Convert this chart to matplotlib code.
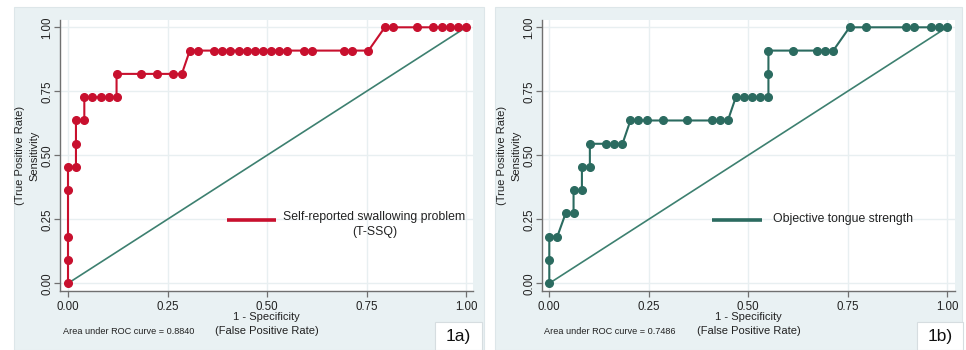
import matplotlib
matplotlib.use("Agg")
import matplotlib.pyplot as plt
from matplotlib.patches import Rectangle

plt.rcParams['font.family'] = ['Liberation Sans', 'DejaVu Sans']

# ---- data ----
fpr_a = [0, 0, 0, 0, 0, .020, .020, .020, .041, .041, .061, .082, .102, .122, .122,
         .184, .224, .265, .286, .306, .327, .367, .388, .408, .429, .449, .469, .490,
         .510, .531, .551, .592, .612, .694, .714, .755, .796, .816, .878, .918, .939,
         .959, .980, 1.0]
tpr_a = [0, .091, .182, .364, .455, .455, .545, .636, .636, .727, .727, .727, .727, .727, .818,
         .818, .818, .818, .818, .909, .909, .909, .909, .909, .909, .909, .909, .909,
         .909, .909, .909, .909, .909, .909, .909, .909, 1, 1, 1, 1, 1,
         1, 1, 1]

fpr_b = [0, 0, 0, .020, .041, .061, .061, .082, .082, .102, .102, .143, .163, .184,
         .204, .224, .245, .286, .347, .408, .429, .449, .469, .490, .510, .531, .551,
         .551, .551, .612, .673, .694, .714, .755, .796, .898, .918, .959, .980, 1.0]
tpr_b = [0, .091, .182, .182, .273, .273, .364, .364, .455, .455, .545, .545, .545, .545,
         .636, .636, .636, .636, .636, .636, .636, .636, .727, .727, .727, .727, .727,
         .818, .909, .909, .909, .909, .909, 1, 1, 1, 1, 1, 1, 1]

ref_line = [0, 1]
ticks = [0, 0.25, 0.5, 0.75, 1.0]
tick_labels = ["0.00", "0.25", "0.50", "0.75", "1.00"]

legend_a = "Self-reported swallowing problem\n(T-SSQ)"
legend_b = "Objective tongue strength"
auc_a = "Area under ROC curve = 0.8840"
auc_b = "Area under ROC curve = 0.7486"
panel_a = "1a)"
panel_b = "1b)"

RED = "#c8102e"
TEAL = "#2b6b60"
DIAG = "#3d8070"
BG = "#e9f1f3"

W, H = 966, 350
fig = plt.figure(figsize=(W / 100, H / 100), dpi=100)


def fx(px):
    return px / W


def fy(py):
    return 1 - py / H


# panel backgrounds
for x0, x1 in [(14, 484), (495, 962)]:
    fig.patches.append(Rectangle((fx(x0), 0), fx(x1 - x0), fy(7), transform=fig.transFigure,
                                 facecolor=BG, edgecolor="#dde6e9", lw=0.8, zorder=-2))


def make_panel(left_px, right_px, x0_px, x1_px, fpr, tpr, color, leg_text, leg_line,
               leg_text_x, leg_ha, leg_dy, auc_text, auc_x, label, box):
    ax = fig.add_axes([fx(left_px), fy(291), fx(right_px - left_px), fy(20) - fy(291)])
    ax.set_zorder(1)
    ax.set_facecolor("white")
    sx = (x1_px - x0_px)
    ax.set_xlim(-(x0_px - left_px) / sx, (right_px - x0_px) / sx)
    ax.set_ylim(-(291 - 283.3) / 256, (283.3 - 20) / 256)
    for s in ["top", "right"]:
        ax.spines[s].set_visible(False)
    for s in ["left", "bottom"]:
        ax.spines[s].set_color("#707070")
        ax.spines[s].set_linewidth(1.0)
    ax.set_xticks(ticks)
    ax.set_xticklabels(tick_labels)
    ax.set_yticks(ticks)
    ax.set_yticklabels(tick_labels, rotation=90, va="center")
    ax.tick_params(axis="both", length=4, width=0.9, color="#707070", labelsize=8.3,
                   labelcolor="#222222", pad=3.5)
    ax.tick_params(axis="y", pad=1.0)
    ax.grid(True, color="#e8eff1", lw=1.0)
    ax.set_axisbelow(True)

    ax.plot(ref_line, ref_line, color=DIAG, lw=1.2, zorder=2)
    ax.plot(fpr, tpr, color=color, lw=1.5, marker="o", ms=5.5, mec=color, mfc=color, zorder=3)

    # legend (inside plot, no frame)
    ly = 0.2475
    ax.plot(leg_line, [ly, ly], color=color, lw=2.6, solid_capstyle="butt", zorder=3)
    ax.text(leg_text_x, ly + leg_dy, leg_text, ha=leg_ha, va="center", fontsize=8.8,
            color="#222222", linespacing=1.3, multialignment="center")

    cx = (left_px + right_px) / 2
    fig.text(fx(cx), fy(316.5), "1 - Specificity", ha="center", va="center", fontsize=8.0,
             color="#222222")
    fig.text(fx(cx), fy(331.0), "(False Positive Rate)", ha="center", va="center",
             fontsize=8.0, color="#222222")
    cy = (291 + 20) / 2
    fig.text(fx(left_px - 26), fy(cy), "Sensitivity", rotation=90, ha="center", va="center",
             fontsize=8.0, color="#222222")
    fig.text(fx(left_px - 40), fy(cy), "(True Positive Rate)", rotation=90, ha="center",
             va="center", fontsize=8.0, color="#222222")
    fig.text(fx(auc_x), fy(332), auc_text, ha="left", va="center", fontsize=6.6,
             color="#222222")

    bx0, bx1 = box
    fig.patches.append(Rectangle((fx(bx0), 0), fx(bx1 - bx0), fy(322), transform=fig.transFigure,
                                 facecolor="white", edgecolor="#d6dde0", lw=0.8, zorder=-1))
    fig.text(fx((bx0 + bx1) / 2), fy(336), label, ha="center", va="center", fontsize=12.5,
             color="#111111")
    return ax


make_panel(60, 473, 68, 466, fpr_a, tpr_a, RED, legend_a, [0.399, 0.522], 0.77, "center",
           -0.018, auc_a, 63, panel_a, (435, 482))
make_panel(542.3, 955, 549.3, 947, fpr_b, tpr_b, TEAL, legend_b, [0.409, 0.534], 0.562, "left",
           0.004, auc_b, 544, panel_b, (917, 963))

fig.savefig("out.png", dpi=100)
